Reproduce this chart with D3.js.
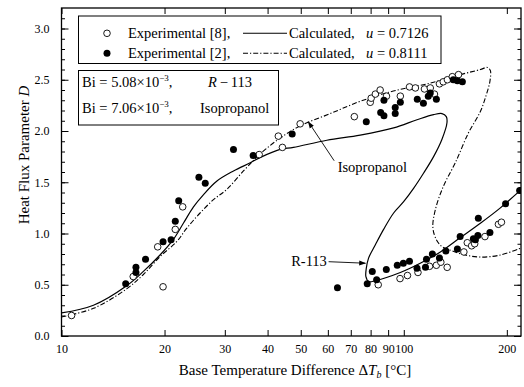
<!DOCTYPE html>
<html>
<head>
<meta charset="utf-8">
<script src="https://cdn.jsdelivr.net/npm/d3@7/dist/d3.min.js"></script>
<style>
  body { margin: 0; background: #fff; }
  svg text { font-family: "Liberation Serif", "Times New Roman", serif; fill: #000; }
</style>
</head>
<body>
<svg id="chart" width="524" height="387"></svg>
<script>
// Axis ticks
const xTicks = [10, 20, 30, 40, 50, 60, 70, 80, 90, 100, 200];
const xTickLabels = ["10", "20", "30", "40", "50", "60", "70", "80", "90", "100", "200"];
const yTicks = [0, 0.5, 1.0, 1.5, 2.0, 2.5, 3.0];
const yMinorTicks = d3.range(0, 32).map(i => i / 10);

// Experimental data, [ΔT_b (°C), D]
const openPoints = [ // Experimental [8]
  [10.7, 0.20], [16.2, 0.58], [19.1, 0.87], [19.8, 0.48], [21.5, 1.04], [22.6, 1.26],
  [37.8, 1.77], [43.0, 1.95], [44.2, 1.84], [49.8, 2.07], [71.7, 2.14], [79.8, 2.28],
  [80.3, 2.32], [82.6, 2.36], [85.3, 2.40], [89.0, 2.34], [97.7, 2.34], [103.9, 2.43],
  [108.1, 2.42], [114.9, 2.41], [119.5, 2.42], [122.9, 2.36], [127.1, 2.46], [130.4, 2.48],
  [134.1, 2.50], [138.6, 2.53], [144.5, 2.55],
  [84.2, 0.50], [97.5, 0.56], [102.5, 0.59], [110.0, 0.62], [118.9, 0.68], [124.5, 0.69],
  [128.3, 0.72], [133.9, 0.67], [149.8, 0.82], [153.3, 0.91], [157.8, 0.88], [161.1, 0.90],
  [172.6, 0.97], [189.0, 1.09], [192.9, 1.11]
];
const filledPoints = [ // Experimental [2]
  [15.4, 0.51], [16.5, 0.67], [16.5, 0.62], [17.6, 0.75], [19.8, 0.92], [20.9, 0.94],
  [21.5, 1.12], [22.0, 1.32], [25.2, 1.55], [26.3, 1.49], [31.8, 1.82], [36.3, 1.76],
  [47.2, 1.97],
  [77.7, 2.09], [85.6, 2.18], [87.5, 2.15], [87.5, 2.30], [94.4, 2.23], [94.4, 2.17],
  [97.7, 2.28], [109.5, 2.31], [114.1, 2.27], [117.9, 2.34], [119.5, 2.37], [124.5, 2.31],
  [139.5, 2.50], [143.4, 2.49], [148.3, 2.48],
  [64.0, 0.47], [78.2, 0.51], [80.9, 0.63], [83.3, 0.55], [88.9, 0.65], [95.7, 0.69],
  [99.7, 0.71], [103.9, 0.73], [109.3, 0.66], [115.7, 0.67], [116.5, 0.75], [121.2, 0.80],
  [127.1, 0.76], [132.7, 0.83], [143.4, 0.85], [146.1, 0.97], [159.7, 0.95], [161.9, 0.94],
  [164.6, 0.98], [165.1, 1.15], [178.5, 1.01], [198.3, 1.29], [218.0, 1.42]
];

// Calculated curves, [ΔT_b (°C), D]
const calcU07126 = [
  [10, 0.225], [12.4, 0.30], [15.5, 0.49], [17.35, 0.63], [19.4, 0.79], [21.2, 0.94],
  [22.7, 1.10], [24.3, 1.26], [26.0, 1.38], [28.4, 1.51], [31.8, 1.61], [35.6, 1.69],
  [38.0, 1.74], [43.5, 1.82], [47.6, 1.84], [59.6, 1.91], [74.6, 1.96], [93.4, 2.03],
  [109.3, 2.11], [122.2, 2.16], [129.3, 2.17], [133.1, 2.14], [133.7, 2.08], [129.3, 1.92],
  [122.2, 1.75], [114.3, 1.59], [106.8, 1.44], [99.9, 1.31], [93.4, 1.20], [87.3, 1.04],
  [82.6, 0.89], [78.9, 0.76], [77.7, 0.66], [77.5, 0.58], [79.05, 0.53], [82.6, 0.54],
  [97.7, 0.62], [111.7, 0.71], [127.9, 0.82], [146.3, 0.96], [167.4, 1.10], [191.5, 1.25],
  [220.6, 1.43]
];
const calcU08111 = [
  [10, 0.186], [12.4, 0.27], [15.5, 0.46], [17.35, 0.60], [19.4, 0.775], [21.7, 0.92],
  [23.2, 1.05], [25.4, 1.20], [27.8, 1.33], [30.4, 1.43], [34.0, 1.61], [36.8, 1.73],
  [39.4, 1.82], [43.5, 1.93], [49.8, 2.05], [61.0, 2.17], [74.6, 2.29], [93.2, 2.39],
  [117.1, 2.46], [146.3, 2.55], [167.4, 2.60], [175.5, 2.62], [179.0, 2.59], [178.4, 2.48],
  [173.7, 2.34], [167.4, 2.19], [154.4, 1.98], [141.4, 1.69], [130.5, 1.46], [123.6, 1.23],
  [121.6, 1.06], [124.5, 0.94], [129.6, 0.87], [138.6, 0.83], [151.3, 0.79], [167.4, 0.77],
  [191.5, 0.79], [220.6, 0.86]
];

// Curve labels: text anchor and leader-arrow tail/tip, [ΔT_b, D]
const isoLabel = { text: "Isopropanol", at: [80.9, 1.60], tail: [62.6, 1.71], tip: [52.6, 2.09] };
const r113Label = { text: "R-113", at: [59.6, 0.684], tail: [60.3, 0.725], tip: [77.3, 0.71] };

const svg = d3.select("#chart");
const W = 524, H = 387;
const plot = { left: 61.5, right: 521, top: 8, bottom: 336 };

const x = d3.scaleLog().domain([10, 220]).range([plot.left, plot.right]);
const y = d3.scaleLinear().domain([0, 3.2]).range([plot.bottom, plot.top]);

svg.append("rect").attr("width", W).attr("height", H).attr("fill", "#fff");

const defs = svg.append("defs");
defs.append("clipPath").attr("id", "plotClip")
  .append("rect")
  .attr("x", plot.left).attr("y", plot.top)
  .attr("width", plot.right - plot.left).attr("height", plot.bottom - plot.top);
defs.append("marker")
  .attr("id", "arrow").attr("viewBox", "0 0 10 10")
  .attr("refX", 9).attr("refY", 5)
  .attr("markerWidth", 7).attr("markerHeight", 7)
  .attr("markerUnits", "userSpaceOnUse")
  .attr("orient", "auto")
  .append("path").attr("d", "M0,1.5 L10,5 L0,8.5 Z").attr("fill", "#000");

// Axes (ticks point into the plot)
const fontTick = 12;
const gBottom = svg.append("g").attr("transform", `translate(0,${plot.bottom})`)
  .call(d3.axisBottom(x).tickValues(xTicks).tickFormat((d, i) => xTickLabels[i])
    .tickSizeInner(-6).tickSizeOuter(0).tickPadding(8));
const gTop = svg.append("g").attr("transform", `translate(0,${plot.top})`)
  .call(d3.axisTop(x).tickValues(xTicks).tickFormat("").tickSizeInner(-6).tickSizeOuter(0));
const gLeft = svg.append("g").attr("transform", `translate(${plot.left},0)`)
  .call(d3.axisLeft(y).tickValues(yTicks).tickFormat(d3.format(".1f"))
    .tickSizeInner(-7).tickSizeOuter(0).tickPadding(12));
const gLeftMinor = svg.append("g").attr("transform", `translate(${plot.left},0)`)
  .call(d3.axisLeft(y).tickValues(yMinorTicks).tickFormat("").tickSizeInner(-3.5).tickSizeOuter(0));
const gRight = svg.append("g").attr("transform", `translate(${plot.right},0)`)
  .call(d3.axisRight(y).tickValues(yTicks).tickFormat("").tickSizeInner(-7).tickSizeOuter(0));
const gRightMinor = svg.append("g").attr("transform", `translate(${plot.right},0)`)
  .call(d3.axisRight(y).tickValues(yMinorTicks).tickFormat("").tickSizeInner(-3.5).tickSizeOuter(0));

[gBottom, gTop, gLeft, gLeftMinor, gRight, gRightMinor].forEach(g => {
  g.select(".domain").remove();
  g.selectAll("line").attr("stroke", "#000").attr("stroke-width", 1);
  g.selectAll("text").attr("font-size", fontTick)
    .attr("font-family", "'Liberation Serif','Times New Roman',serif").attr("fill", "#000");
});

svg.append("rect")
  .attr("x", plot.left).attr("y", plot.top)
  .attr("width", plot.right - plot.left).attr("height", plot.bottom - plot.top)
  .attr("fill", "none").attr("stroke", "#000").attr("stroke-width", 1.3);

// Axis titles
const yTitle = svg.append("text")
  .attr("transform", `translate(29,155) rotate(-90)`)
  .attr("text-anchor", "middle").attr("font-size", 15);
yTitle.append("tspan").text("Heat Flux Parameter ");
yTitle.append("tspan").attr("font-style", "italic").text("D");

const xTitle = svg.append("text")
  .attr("x", 295).attr("y", 375).attr("text-anchor", "middle").attr("font-size", 15);
xTitle.append("tspan").text("Base Temperature Difference Δ");
xTitle.append("tspan").attr("font-style", "italic").text("T");
xTitle.append("tspan").attr("font-style", "italic").attr("font-size", 10).attr("dy", 3).text("b");
xTitle.append("tspan").attr("dy", -3).text(" [°C]");

// Calculated curves
const line = d3.line().x(d => x(d[0])).y(d => y(d[1])).curve(d3.curveCatmullRom.alpha(0.5));
const curves = svg.append("g").attr("clip-path", "url(#plotClip)");
curves.append("path").datum(calcU07126).attr("d", line)
  .attr("fill", "none").attr("stroke", "#000").attr("stroke-width", 1.2);
curves.append("path").datum(calcU08111).attr("d", line)
  .attr("fill", "none").attr("stroke", "#000").attr("stroke-width", 1.1)
  .attr("stroke-dasharray", "5,2,1.2,2");

// Experimental points
const pts = svg.append("g").attr("clip-path", "url(#plotClip)");
pts.selectAll("circle.open").data(openPoints).join("circle").attr("class", "open")
  .attr("cx", d => x(d[0])).attr("cy", d => y(d[1])).attr("r", 3.3)
  .attr("fill", "#fff").attr("stroke", "#000").attr("stroke-width", 0.9);
pts.selectAll("circle.filled").data(filledPoints).join("circle").attr("class", "filled")
  .attr("cx", d => x(d[0])).attr("cy", d => y(d[1])).attr("r", 3.5)
  .attr("fill", "#000");

// Curve labels with leader arrows
[isoLabel, r113Label].forEach((lab, i) => {
  svg.append("line")
    .attr("x1", x(lab.tail[0])).attr("y1", y(lab.tail[1]))
    .attr("x2", x(lab.tip[0])).attr("y2", y(lab.tip[1]))
    .attr("stroke", "#000").attr("stroke-width", 0.9)
    .attr("marker-end", "url(#arrow)");
  svg.append("text")
    .attr("x", x(lab.at[0])).attr("y", y(lab.at[1]))
    .attr("text-anchor", i === 0 ? "middle" : "end")
    .attr("font-size", 14.5).text(lab.text);
});

// Legend box
const fontLeg = 14.5;
svg.append("rect").attr("x", 78.5).attr("y", 16).attr("width", 362.5).attr("height", 47.5)
  .attr("fill", "#fff").attr("stroke", "#000").attr("stroke-width", 1);
const legRows = [
  { ref: "Experimental [8],", open: true, dash: null, u: "0.7126", cy: 33.3 },
  { ref: "Experimental [2],", open: false, dash: "5,2,1.2,2", u: "0.8111", cy: 53.3 }
];
legRows.forEach(r => {
  svg.append("circle").attr("cx", 107).attr("cy", r.cy).attr("r", r.open ? 3.3 : 3.5)
    .attr("fill", r.open ? "#fff" : "#000").attr("stroke", "#000").attr("stroke-width", r.open ? 0.9 : 0);
  svg.append("text").attr("x", 128).attr("y", r.cy + 4.8).attr("font-size", fontLeg).text(r.ref);
  svg.append("line").attr("x1", 243).attr("x2", 287).attr("y1", r.cy).attr("y2", r.cy)
    .attr("stroke", "#000").attr("stroke-width", 1.1)
    .attr("stroke-dasharray", r.dash);
  const t = svg.append("text").attr("x", 289).attr("y", r.cy + 4.8).attr("font-size", fontLeg);
  t.append("tspan").text("Calculated,");
  t.append("tspan").attr("x", 366).attr("font-style", "italic").text("u");
  t.append("tspan").text(" = " + r.u);
});

// Parameter box
svg.append("rect").attr("x", 78.5).attr("y", 70.5).attr("width", 200).attr("height", 54.5)
  .attr("fill", "#fff").attr("stroke", "#000").attr("stroke-width", 1);
const paramRows = [
  { bi: "5.08", fluid: "R-113", italicR: true, base: 87, fx: 208 },
  { bi: "7.06", fluid: "Isopropanol", italicR: false, base: 113, fx: 200 }
];
paramRows.forEach(r => {
  const t = svg.append("text").attr("x", 82).attr("y", r.base).attr("font-size", fontLeg);
  t.append("tspan").text("Bi = " + r.bi + "×10");
  t.append("tspan").attr("font-size", 9).attr("dy", -6).text("−3");
  t.append("tspan").attr("dy", 6).text(",");
  const f = svg.append("text").attr("x", r.fx).attr("y", r.base).attr("font-size", fontLeg);
  if (r.italicR) {
    f.append("tspan").attr("font-style", "italic").text("R");
    f.append("tspan").text("\u2009−\u2009113");
  } else {
    f.text(r.fluid);
  }
});
</script>
</body>
</html>
